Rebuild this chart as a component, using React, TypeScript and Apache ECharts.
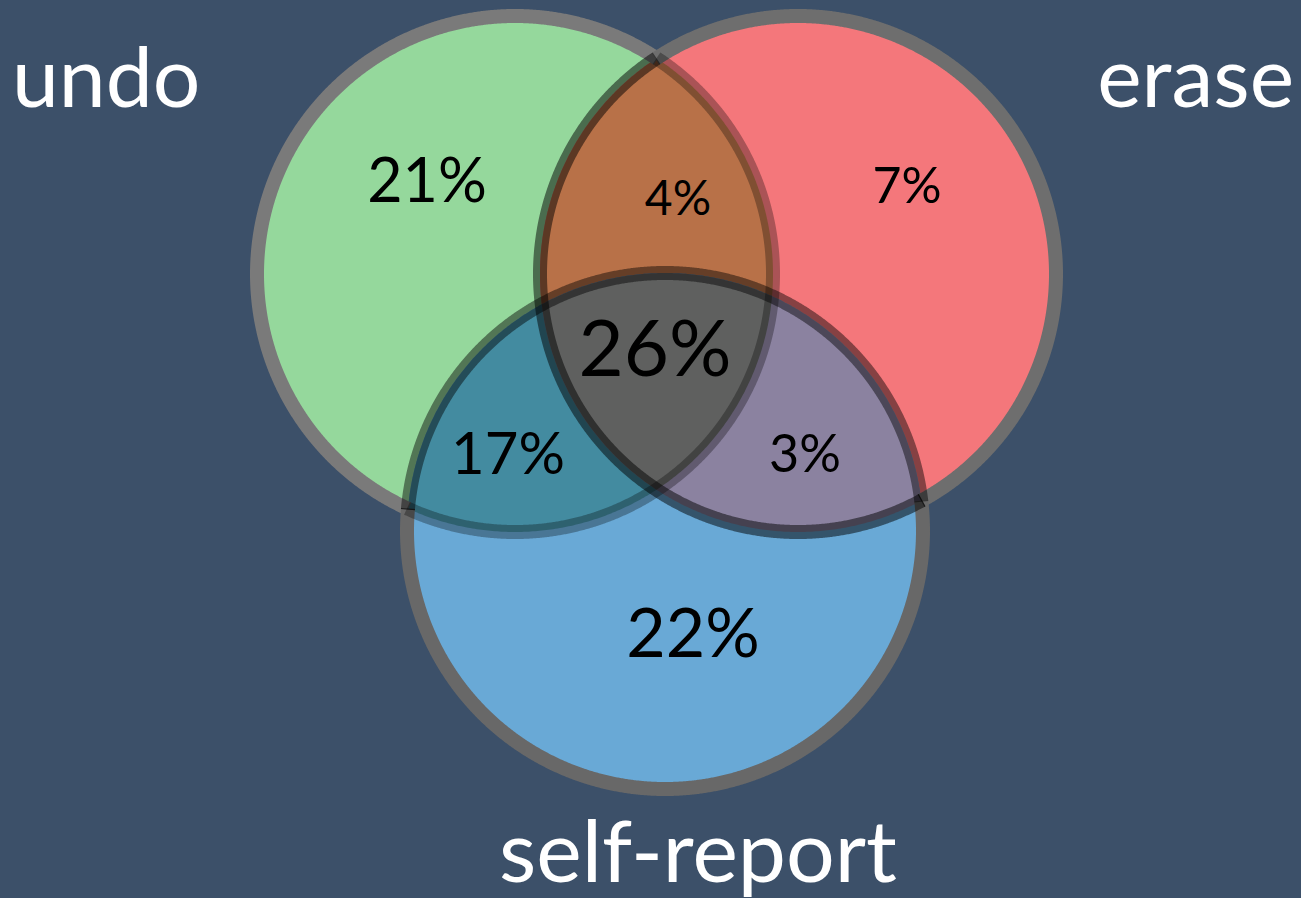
import React, { useEffect, useRef } from 'react';
import * as echarts from 'echarts';

// ---------- data ----------
const SET_NAMES = ['undo', 'erase', 'self-report'];
const SET_COLORS = ['#95d89c', '#f4777b', '#69a9d6'];
// region membership masks: bit0 = undo, bit1 = erase, bit2 = self-report
const REGION_MASKS = [1, 2, 4, 3, 5, 6, 7];
const REGION_VALUES = [21, 7, 22, 4, 17, 3, 26];
const REGION_COLORS = ['#95d89c', '#f4777b', '#69a9d6', '#b87148', '#438ba0', '#8b82a0', '#5f605f'];

// ---------- layout & style ----------
const BG = '#3c5069';
const CIRCLE_CENTERS = [[515, 274], [798, 274], [665, 531]];
const CIRCLE_RADIUS = 258;
const BORDER_WIDTH = 14;
const SET_BORDER = ['#7a7a7a', '#6e6e6e', '#686868'];
const SET_INNER_ALPHA = [0.3, 0.5, 0.45];
const REGION_LABEL_POS = [[427, 178], [907, 184], [693, 630], [678, 196], [508, 451], [805, 452], [655, 346]];
const REGION_LABEL_SIZE = [61, 50, 68, 48, 58, 52, 78];
const SET_LABEL_POS = [[12, 74], [1294, 74], [698, 848]];
const SET_LABEL_ALIGN = ['left', 'right', 'center'];
const SET_LABEL_SIZE = [84, 84, 86];
const FONT = 'Lato, "Noto Sans", sans-serif';

type Pt = number[];

function circlePts(c: Pt, r: number, n: number): Pt[] {
  const pts: Pt[] = [];
  for (let k = 0; k < n; k++) {
    const a = (k / n) * Math.PI * 2;
    pts.push([c[0] + r * Math.cos(a), c[1] + r * Math.sin(a)]);
  }
  return pts;
}

function clipPoly(subject: Pt[], clip: Pt[]): Pt[] {
  let area = 0;
  for (let i = 0; i < clip.length; i++) {
    const p = clip[i], q = clip[(i + 1) % clip.length];
    area += p[0] * q[1] - q[0] * p[1];
  }
  const s = area > 0 ? 1 : -1;
  let out = subject;
  for (let i = 0; i < clip.length; i++) {
    if (!out.length) break;
    const a = clip[i], b = clip[(i + 1) % clip.length];
    const dx = b[0] - a[0], dy = b[1] - a[1];
    const cr = (p: Pt) => dx * (p[1] - a[1]) - dy * (p[0] - a[0]);
    const inp = out;
    out = [];
    for (let j = 0; j < inp.length; j++) {
      const P = inp[j], Q = inp[(j + 1) % inp.length];
      const cp = cr(P), cq = cr(Q);
      const pin = s * cp >= 0, qin = s * cq >= 0;
      if (pin) out.push(P);
      if (pin !== qin) {
        const t = cp / (cp - cq);
        out.push([P[0] + t * (Q[0] - P[0]), P[1] + t * (Q[1] - P[1])]);
      }
    }
  }
  return out;
}

function pxCircles(api: any) {
  const r = api.size([CIRCLE_RADIUS, 0])[0];
  return CIRCLE_CENTERS.map((c) => ({ c: api.coord(c), r }));
}

// arc runs of circle i split into outside/inside the other circles
function arcRuns(api: any, i: number, wantInside: boolean): Pt[][] {
  const cs = pxCircles(api);
  const n = 1440;
  const pts = circlePts(cs[i].c, cs[i].r, n);
  const inside = pts.map((p) =>
    cs.some((o, j) => j !== i && Math.hypot(p[0] - o.c[0], p[1] - o.c[1]) < o.r)
  );
  let start = 0;
  for (let k = 0; k < n; k++) {
    if (inside[k] !== inside[(k + n - 1) % n]) { start = k; break; }
  }
  const runs: Pt[][] = [];
  let cur: Pt[] | null = null;
  for (let m = 0; m <= n; m++) {
    const k = (start + m) % n;
    if (inside[k] === wantInside) {
      if (!cur) {
        cur = [pts[(k + n - 1) % n]];
      }
      cur.push(pts[k]);
    } else if (cur) {
      cur.push(pts[k]);
      runs.push(cur);
      cur = null;
    }
  }
  if (cur) runs.push(cur);
  return runs;
}

export default function App() {
  const ref = useRef<HTMLDivElement>(null);
  useEffect(() => {
    document.body.style.margin = '0';
    document.body.style.background = BG;
    const chart = echarts.init(ref.current!, undefined, { renderer: 'svg' });
    const hiddenAxis = { type: 'value', show: false, splitLine: { show: false } };
    chart.setOption({
      animation: false,
      backgroundColor: BG,
      grid: { left: 0, right: 0, top: 0, bottom: 0 },
      xAxis: { ...hiddenAxis, min: 0, max: 1301 },
      yAxis: { ...hiddenAxis, min: 0, max: 898, inverse: true },
      series: [
        {
          type: 'custom',
          name: 'regions',
          z: 1,
          clip: false,
          silent: true,
          data: REGION_MASKS.map((m, i) => ({ value: [i, m] })),
          renderItem: (params: any, api: any) => {
            const mask = REGION_MASKS[params.dataIndex];
            const cs = pxCircles(api);
            let poly: Pt[] | null = null;
            cs.forEach((c, j) => {
              if (mask & (1 << j)) {
                const cp = circlePts(c.c, c.r, 720);
                poly = poly ? clipPoly(poly, cp) : cp;
              }
            });
            return {
              type: 'polygon',
              shape: { points: poly || [] },
              style: { fill: REGION_COLORS[params.dataIndex], stroke: null },
            };
          },
        },
        {
          type: 'custom',
          name: 'outer borders',
          z: 2,
          clip: false,
          silent: true,
          data: SET_NAMES.map((s, i) => ({ name: s, value: [i, i] })),
          renderItem: (params: any, api: any) => {
            const i = params.dataIndex;
            return {
              type: 'group',
              children: arcRuns(api, i, false).map((run) => ({
                type: 'polyline',
                shape: { points: run },
                style: { stroke: SET_BORDER[i], lineWidth: BORDER_WIDTH, fill: null, lineCap: 'butt' },
              })),
            };
          },
        },
        {
          type: 'custom',
          name: 'inner borders',
          z: 3,
          clip: false,
          silent: true,
          data: SET_NAMES.map((s, i) => ({ name: s, value: [i, i] })),
          renderItem: (params: any, api: any) => {
            const i = params.dataIndex;
            return {
              type: 'group',
              children: arcRuns(api, i, true).map((run) => ({
                type: 'polyline',
                shape: { points: run },
                style: {
                  stroke: `rgba(0,0,0,${SET_INNER_ALPHA[i]})`,
                  lineWidth: BORDER_WIDTH,
                  fill: null,
                  lineCap: 'butt',
                },
              })),
            };
          },
        },
        {
          type: 'custom',
          name: 'region labels',
          z: 4,
          clip: false,
          silent: true,
          data: REGION_VALUES.map((v, i) => ({ value: [REGION_LABEL_POS[i][0], REGION_LABEL_POS[i][1], v] })),
          renderItem: (params: any, api: any) => {
            const p = api.coord([api.value(0), api.value(1)]);
            return {
              type: 'text',
              x: p[0],
              y: p[1],
              style: {
                text: `${api.value(2)}%`,
                fill: '#000000',
                fontSize: REGION_LABEL_SIZE[params.dataIndex],
                fontFamily: FONT,
                fontWeight: 'normal',
                align: 'center',
                verticalAlign: 'middle',
              },
            };
          },
        },
        {
          type: 'custom',
          name: 'set labels',
          z: 5,
          clip: false,
          silent: true,
          data: SET_NAMES.map((s, i) => ({ name: s, value: [SET_LABEL_POS[i][0], SET_LABEL_POS[i][1]] })),
          renderItem: (params: any, api: any) => {
            const i = params.dataIndex;
            const p = api.coord([api.value(0), api.value(1)]);
            return {
              type: 'text',
              x: p[0],
              y: p[1],
              style: {
                text: SET_NAMES[i],
                fill: '#ffffff',
                fontSize: SET_LABEL_SIZE[i],
                fontFamily: FONT,
                fontWeight: 'normal',
                align: SET_LABEL_ALIGN[i],
                verticalAlign: 'middle',
              },
            };
          },
        },
      ],
    });
    return () => chart.dispose();
  }, []);
  return <div ref={ref} style={{ width: 1301, height: 898 }} />;
}
